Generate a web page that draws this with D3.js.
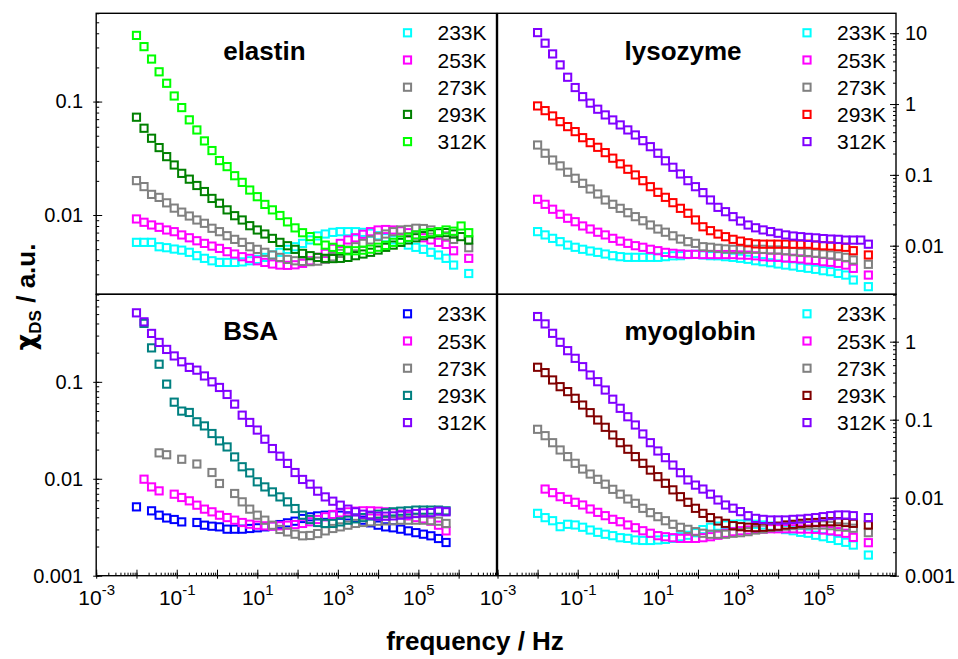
<!DOCTYPE html>
<html>
<head>
<meta charset="utf-8">
<script src="https://cdn.jsdelivr.net/npm/d3@7"></script>
<style>
  body { margin: 0; background: #fff; }
  svg { display: block; }
  text { font-family: Arial, "Liberation Sans", Helvetica, sans-serif; fill: #000; }
</style>
</head>
<body>
<svg id="chart" width="958" height="659"></svg>
<script>
// Measurement frequencies (Hz), shared by all samples
const freq = [0.01,0.0154,0.0237,0.0365,0.0562,0.0866,0.133,0.205,0.316,0.487,0.75,1.15,1.78,2.74,4.22,6.49,10,15.4,23.7,36.5,56.2,86.6,133,205,316,487,750,1150,1780,2740,4220,6490,10000,15400,23700,36500,56200,86600,133000,205000,316000,487000,750000,1150000,1780000];

const temperatures = ["233K", "253K", "273K", "293K", "312K"];

// elastin
const elastin233 = [0.00574,0.00574,0.00574,0.00525,0.00515,0.00501,0.0049,0.00469,0.00438,0.00415,0.00395,0.00382,0.00382,0.00382,0.00386,0.00395,0.00406,0.00423,0.00444,0.00469,0.00498,0.00525,0.00562,0.00603,0.00654,0.0068,0.00703,0.00713,0.00713,0.00713,0.00703,0.00691,0.00657,0.0063,0.00603,0.00574,0.00543,0.00519,0.00498,0.00469,0.00444,0.00415,0.00362,null,0.00305];
const elastin253 = [0.00923,0.00863,0.00817,0.00779,0.00738,0.00713,0.00667,0.0063,0.00593,0.00562,0.00532,0.00508,0.00475,0.00453,0.00429,0.00415,0.00395,0.00382,0.0037,0.00362,0.0036,0.00364,0.00375,0.00395,0.00423,0.00459,0.00508,0.00562,0.00603,0.0063,0.00676,0.00713,0.00738,0.00745,0.00738,0.00725,0.00698,0.00667,0.0063,0.00603,0.00574,0.00551,0.00484,null,0.00415];
const elastin273 = [0.0201,0.0178,0.0152,0.0143,0.0128,0.0115,0.0106,0.0098,0.00904,0.00845,0.00764,0.00713,0.00657,0.0061,0.00574,0.00525,0.00498,0.00469,0.00444,0.00423,0.00406,0.00395,0.0039,0.00388,0.00392,0.00406,0.00428,0.00459,0.0049,0.00525,0.00562,0.00603,0.00645,0.0068,0.00713,0.00738,0.00746,0.00764,0.0076,0.00738,0.00698,0.00654,0.0061,null,0.00515];
const elastin293 = [0.0728,0.0582,0.0475,0.0393,0.0327,0.0276,0.0233,0.0207,0.0182,0.0161,0.014,0.0127,0.0111,0.00986,0.00904,0.00805,0.00738,0.0068,0.00622,0.00574,0.00536,0.00498,0.00459,0.00438,0.00423,0.00415,0.00413,0.00415,0.00423,0.00438,0.00453,0.00469,0.00491,0.00519,0.00543,0.00574,0.00603,0.0063,0.00657,0.0068,0.00698,0.007,0.0068,0.00645,0.00603];
const elastin312 = [0.383,0.305,0.237,0.183,0.145,0.112,0.0885,0.069,0.0562,0.045,0.037,0.0302,0.0267,0.0222,0.0194,0.0166,0.0145,0.0124,0.0111,0.0099,0.0087,0.0077,0.00698,0.00645,0.00593,0.00543,0.00519,0.00498,0.00484,0.00484,0.0049,0.005,0.0052,0.0054,0.00574,0.00603,0.00636,0.00667,0.0069,0.007,0.00713,0.00738,0.0072,0.008,0.00698];

// lysozyme
const lysozyme233 = [0.0158,0.0142,0.0127,0.0114,0.0102,0.0095,0.0089,0.00841,0.00806,0.00763,0.00723,0.007,0.00685,0.00685,0.00685,0.00685,0.00685,0.007,0.0072,0.00723,0.0075,0.00755,0.0074,0.00723,0.0072,0.007,0.00685,0.00664,0.00643,0.00614,0.00595,0.00575,0.00552,0.00533,0.00517,0.00495,0.0048,0.00464,0.00444,0.0043,0.00407,0.00385,0.00328,null,0.00264];
const lysozyme253 = [0.0452,0.0384,0.0327,0.0278,0.0244,0.0218,0.019,0.0172,0.0155,0.0142,0.0127,0.0116,0.0108,0.01,0.0095,0.0089,0.0085,0.00805,0.00781,0.00764,0.00755,0.00755,0.0075,0.0075,0.0075,0.0075,0.0075,0.0074,0.00735,0.0072,0.007,0.0069,0.00685,0.0067,0.00664,0.0065,0.00628,0.0062,0.00595,0.00583,0.00564,0.00533,0.00479,null,0.00385];
const lysozyme273 = [0.264,0.202,0.162,0.134,0.109,0.0895,0.076,0.0632,0.0537,0.0442,0.0384,0.0337,0.0292,0.0257,0.0225,0.0196,0.0172,0.0155,0.0138,0.0124,0.0114,0.0108,0.00968,0.0095,0.00919,0.009,0.0089,0.0089,0.0089,0.0089,0.0089,0.0087,0.0087,0.0085,0.00823,0.00806,0.00806,0.00781,0.00763,0.0074,0.00716,0.00685,0.00628,null,0.00546];
const lysozyme293 = [0.94,0.807,0.679,0.564,0.48,0.408,0.335,0.285,0.245,0.206,0.172,0.143,0.12,0.0998,0.0828,0.0681,0.0567,0.0482,0.0405,0.0337,0.0287,0.0231,0.0185,0.0163,0.0146,0.0134,0.0123,0.0116,0.011,0.0106,0.0105,0.0105,0.0105,0.0105,0.0105,0.0105,0.0105,0.0102,0.01,0.0099,0.0097,0.0095,0.0085,null,0.0074];
const lysozyme312 = [10.2,7.23,5.1,3.57,2.39,1.71,1.27,1.03,0.845,0.702,0.596,0.507,0.431,0.366,0.304,0.25,0.202,0.158,0.128,0.103,0.0828,0.0681,0.0561,0.0442,0.0348,0.0302,0.0257,0.0223,0.0196,0.0179,0.0167,0.0158,0.015,0.0142,0.0137,0.0134,0.0131,0.0129,0.0126,0.0124,0.0123,0.012,0.012,0.012,0.0105];

// BSA
const bsa233 = [0.00513,null,0.00467,0.00421,0.00394,0.0038,0.00359,null,0.00354,0.00332,0.00324,0.00319,0.00302,0.00302,0.00302,0.00307,0.00312,0.00319,0.00327,0.00337,0.00351,0.00365,0.00389,0.00405,0.00414,0.00421,0.00424,0.00421,0.00414,0.00394,0.00374,0.00351,0.00332,0.00319,0.00312,0.00302,0.0029,0.00278,0.00268,0.00258,0.00242,0.0022];
const bsa253 = [null,0.0099,0.00824,0.0075,null,0.00693,0.00641,0.00592,0.00534,0.00486,0.00456,0.00421,0.00398,0.00374,0.00354,0.0034,0.00332,0.00327,0.00325,0.00327,0.00332,0.00337,0.00346,0.0036,0.0038,0.00405,0.00428,0.00445,0.00456,0.00463,0.00467,0.00467,0.00463,0.00456,0.00445,0.00431,0.00414,0.00398,0.00386,0.00365,0.00332,0.0029];
const bsa273 = [null,null,null,0.0185,0.0177,null,0.0159,null,0.0142,null,0.0116,0.00894,null,0.00705,0.00578,0.00486,0.00421,0.00374,0.00332,0.003,0.00283,0.00268,0.00258,0.0026,0.00272,0.0029,0.00307,0.00319,0.00332,0.00346,0.00354,0.0036,0.00365,0.00368,0.0037,0.00374,0.00374,0.00374,0.00374,0.0037,0.00365,0.00346];
const bsa293 = [null,0.401,0.224,0.152,0.0947,0.0617,0.0499,0.0483,0.0387,0.0351,0.0293,0.0246,0.0213,0.0168,0.0133,0.0115,0.0093,0.00824,0.00732,0.0065,0.00578,0.00493,0.00421,0.0038,0.00354,0.00346,0.00346,0.00359,0.00374,0.00386,0.00398,0.00414,0.00431,0.00445,0.00456,0.00463,0.00467,0.00475,0.00475,0.00475,0.00475,0.00467];
const bsa312 = [0.515,0.416,0.316,0.255,0.216,0.185,0.161,0.141,0.132,0.115,0.1,0.0875,0.0741,0.0589,0.0453,0.0381,0.0318,0.0256,0.0205,0.0171,0.0144,0.0116,0.00984,0.0088,0.00745,0.0065,0.00587,0.00534,0.00486,0.00456,0.00431,0.00421,0.00411,0.00411,0.00414,0.00421,0.00431,0.00438,0.00445,0.00448,0.00463,0.00456];

// myoglobin
const myoglobin233 = [0.0063,0.00555,0.00507,0.00425,0.00456,0.00447,0.00418,0.00385,0.0036,0.0034,0.00326,0.00307,0.00301,0.00287,0.00283,0.00283,0.00287,0.00292,0.00301,0.00316,0.0033,0.00356,0.0039,0.00418,0.00432,0.00447,0.00456,0.0046,0.0046,0.00456,0.00447,0.00432,0.00418,0.0039,0.00377,0.0036,0.0035,0.0033,0.00316,0.00301,0.00283,0.00268,0.00247,null,0.00184];
const myoglobin253 = [null,0.0129,0.0116,0.0103,0.00953,0.00873,0.00806,0.00716,0.00649,0.00588,0.00528,0.00492,0.00447,0.00412,0.00377,0.0035,0.00326,0.00316,0.00307,0.00301,0.00301,0.00301,0.00307,0.00316,0.0033,0.0035,0.00367,0.00377,0.00385,0.00393,0.00396,0.004,0.004,0.004,0.004,0.00396,0.00396,0.00393,0.00385,0.00377,0.00367,0.0035,0.0031,null,0.00265];
const myoglobin273 = [0.0753,0.0624,0.0507,0.0409,0.0336,0.0276,0.0233,0.0201,0.0172,0.0149,0.0128,0.0111,0.00962,0.00847,0.00731,0.00643,0.00571,0.00507,0.00456,0.00417,0.00393,0.00367,0.0035,0.0034,0.0034,0.0034,0.0035,0.00356,0.00367,0.00385,0.00396,0.00414,0.00425,0.00432,0.00438,0.00447,0.00447,0.00447,0.00447,0.00438,0.00425,0.00418,0.00406,null,0.00356];
const myoglobin293 = [0.47,0.401,0.323,0.265,0.229,0.188,0.154,0.123,0.0991,0.0799,0.0637,0.0507,0.0418,0.0336,0.0276,0.0226,0.0186,0.0153,0.0126,0.0103,0.00873,0.00731,0.0063,0.00555,0.00503,0.00469,0.00438,0.00425,0.00418,0.00414,0.00418,0.00425,0.00432,0.00447,0.00456,0.00469,0.00477,0.00481,0.00492,0.00492,0.00492,0.00481,0.00469,null,0.00447];
const myoglobin312 = [2.1,1.69,1.28,0.982,0.767,0.612,0.478,0.374,0.307,0.24,0.183,0.14,0.109,0.0855,0.0656,0.0507,0.0397,0.0326,0.0262,0.0209,0.0169,0.0145,0.0129,0.0111,0.00935,0.00806,0.00733,0.00663,0.00588,0.00543,0.00527,0.00518,0.00518,0.00518,0.00527,0.00532,0.00543,0.00555,0.00571,0.00588,0.006,0.006,0.00588,null,0.00555];

// y-axis label values per panel
const yLabelsElastin = [0.01, 0.1];
const yLabelsLysozyme = [0.01, 0.1, 1, 10];
const yLabelsBSA = [0.001, 0.01, 0.1];
const yLabelsMyoglobin = [0.001, 0.01, 0.1, 1];
const xLabelExponents = [-3, -1, 1, 3, 5];

const panels = [
  { title: "elastin", col: 0, row: 0, yDomain: [0.002, 0.6], yLabels: yLabelsElastin,
    series: [elastin233, elastin253, elastin273, elastin293, elastin312],
    colors: ["#00ffff", "#ff00ff", "#808080", "#008000", "#00ff00"] },
  { title: "lysozyme", col: 1, row: 0, yDomain: [0.00206, 19.1], yLabels: yLabelsLysozyme,
    series: [lysozyme233, lysozyme253, lysozyme273, lysozyme293, lysozyme312],
    colors: ["#00ffff", "#ff00ff", "#808080", "#ff0000", "#8000ff"] },
  { title: "BSA", col: 0, row: 1, yDomain: [0.001, 0.8], yLabels: yLabelsBSA,
    series: [bsa233, bsa253, bsa273, bsa293, bsa312],
    colors: ["#0000ff", "#ff00ff", "#808080", "#008080", "#8000ff"] },
  { title: "myoglobin", col: 1, row: 1, yDomain: [0.001, 4.05], yLabels: yLabelsMyoglobin,
    series: [myoglobin233, myoglobin253, myoglobin273, myoglobin293, myoglobin312],
    colors: ["#00ffff", "#ff00ff", "#808080", "#800000", "#8000ff"] }
];

const svg = d3.select("#chart");
const colX = [[96.2, 496.5], [497.5, 896]];
const rowY = [[13.3, 294.3], [294.3, 575.7]];
const xMax = Math.pow(10, 6.94);
const SQ = 7.2;      // marker side
const SW = 2;        // marker stroke

function minorTicks(lo, hi) {
  const out = [];
  for (let e = -4; e <= 7; e++) {
    for (let m = 1; m <= 9; m++) {
      const v = m * Math.pow(10, e);
      if (v >= lo * 0.9999 && v <= hi * 1.0001) out.push(v);
    }
  }
  return out;
}
function fmt(v) {
  return v >= 1 ? String(v) : v.toFixed(Math.round(-Math.log10(v)));
}

panels.forEach(p => {
  const [x0, x1] = colX[p.col];
  const [y0, y1] = rowY[p.row];
  const x = d3.scaleLog().domain([1e-3, xMax]).range([x0, x1]);
  const y = d3.scaleLog().domain(p.yDomain).range([y1, y0]);
  const g = svg.append("g");

  const clipId = "clip-" + p.title;
  svg.append("clipPath").attr("id", clipId)
    .append("rect").attr("x", x0).attr("y", y0).attr("width", x1 - x0).attr("height", y1 - y0);

  // y axis: left side for the left column, right side for the right column
  const yMinor = minorTicks(p.yDomain[0], p.yDomain[1]);
  const yMajor = yMinor.filter(v => Math.abs(Math.log10(v) - Math.round(Math.log10(v))) < 1e-9);
  if (p.col === 0) {
    g.append("g").attr("transform", `translate(${x0},0)`)
      .call(d3.axisLeft(y).tickValues(yMinor).tickSize(-3).tickFormat(""))
      .call(a => a.select(".domain").remove());
    const maj = g.append("g").attr("transform", `translate(${x0},0)`)
      .call(d3.axisLeft(y).tickValues(yMajor).tickSize(-6).tickPadding(13)
        .tickFormat(v => p.yLabels.includes(v) ? fmt(v) : ""));
    maj.select(".domain").remove();
    maj.selectAll(".tick line").attr("x1", -3);
    maj.selectAll(".tick text").attr("font-size", 20).attr("x", -13);
  } else {
    g.append("g").attr("transform", `translate(${x1},0)`)
      .call(d3.axisRight(y).tickValues(yMinor).tickSize(-3).tickFormat(""))
      .call(a => a.select(".domain").remove());
    const maj = g.append("g").attr("transform", `translate(${x1},0)`)
      .call(d3.axisRight(y).tickValues(yMajor).tickSize(-6).tickPadding(9)
        .tickFormat(v => p.yLabels.includes(v) ? fmt(v) : ""));
    maj.select(".domain").remove();
    maj.selectAll(".tick line").attr("x1", 3);
    maj.selectAll(".tick text").attr("font-size", 20).attr("x", 9);
  }

  // frequency axis on the bottom row
  if (p.row === 1) {
    const xMinor = minorTicks(1e-3, xMax);
    const xMajor = xMinor.filter(v => Math.abs(Math.log10(v) - Math.round(Math.log10(v))) < 1e-9);
    g.append("g").attr("transform", `translate(0,${y1})`)
      .call(d3.axisBottom(x).tickValues(xMinor).tickSize(-3).tickFormat(""))
      .call(a => a.select(".domain").remove());
    const maj = g.append("g").attr("transform", `translate(0,${y1})`)
      .call(d3.axisBottom(x).tickValues(xMajor).tickSize(-6).tickFormat(""));
    maj.select(".domain").remove();
    maj.selectAll(".tick line").attr("y1", 3);
    maj.selectAll(".tick").each(function (v) {
      const e = Math.round(Math.log10(v));
      if (!xLabelExponents.includes(e)) return;
      const t = d3.select(this).select("text")
        .attr("y", 29).attr("dy", null).attr("font-size", 21).attr("text-anchor", "middle");
      t.append("tspan").text("10");
      t.append("tspan").attr("dy", -10).attr("font-size", 15).text(String(e));
    });
  }

  // frame
  g.append("rect").attr("x", x0).attr("y", y0).attr("width", x1 - x0).attr("height", y1 - y0)
    .attr("fill", "none").attr("stroke", "#000").attr("stroke-width", 1.4);

  // open-square markers, lowest temperature drawn first
  const marks = g.append("g").attr("clip-path", `url(#${clipId})`);
  p.series.forEach((vals, si) => {
    const pts = vals.map((v, i) => ({ f: freq[i], v })).filter(d => d.v != null);
    marks.append("g").selectAll("rect").data(pts).join("rect")
      .attr("x", d => x(d.f) - SQ / 2).attr("y", d => y(d.v) - SQ / 2)
      .attr("width", SQ).attr("height", SQ)
      .attr("fill", "none").attr("stroke", p.colors[si]).attr("stroke-width", SW);
  });

  // sample name, left-aligned inside the panel
  g.append("text").attr("x", x0 + 127).attr("y", y0 + (p.row === 0 ? 47 : 46))
    .attr("font-size", 26).attr("font-weight", "bold").text(p.title);

  // legend
  const lg = g.append("g");
  temperatures.forEach((t, i) => {
    const cy = y0 + 19.5 + i * 27.2;
    lg.append("rect").attr("x", x1 - 89 - SQ / 2).attr("y", cy - SQ / 2).attr("width", SQ).attr("height", SQ)
      .attr("fill", "none").attr("stroke", p.colors[i]).attr("stroke-width", SW);
    lg.append("text").attr("x", x1 - 59).attr("y", cy + 7.5).attr("font-size", 21).text(t);
  });
});

// axis titles
const yTitle = svg.append("text").attr("transform", "translate(35,297) rotate(-90)")
  .attr("text-anchor", "middle").attr("font-size", 26).attr("font-weight", "bold");
yTitle.append("tspan").attr("font-family", "'DejaVu Sans', 'Noto Sans', sans-serif").text("\u03C7");
yTitle.append("tspan").attr("font-size", 17).attr("dy", 6).text("DS");
yTitle.append("tspan").attr("dy", -6).text(" / a.u.");

svg.append("text").attr("x", 475).attr("y", 650).attr("text-anchor", "middle")
  .attr("font-size", 26).attr("font-weight", "bold").text("frequency / Hz");
</script>
</body>
</html>
